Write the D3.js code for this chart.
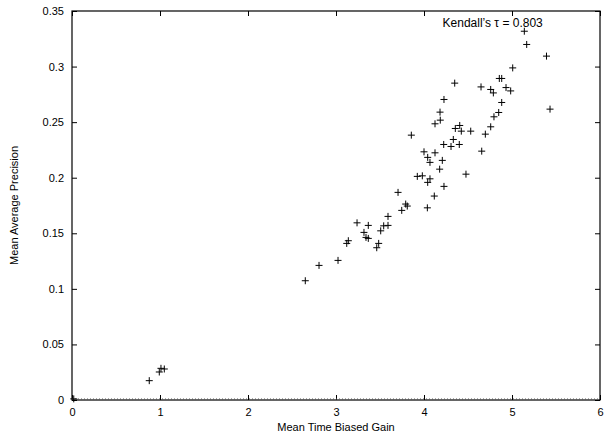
<!DOCTYPE html>
<html>
<head>
    <meta charset="utf-8">
    <script src="https://d3js.org/d3.v7.min.js"></script>
    <style>
        body { margin: 0; background: #fff; }
        text { font-family: "Liberation Sans", Arial, sans-serif; }
    </style>
</head>
<body>
<script>
    // values
    var mtbg = [0.02, 0.878, 0.992, 1.011, 1.049, 2.651, 2.807, 3.023, 3.122, 3.140,
        3.239, 3.318, 3.341, 3.367, 3.367, 3.463, 3.485, 3.508, 3.542, 3.591,
        3.591, 3.705, 3.747, 3.792, 3.810, 3.856, 3.924, 3.981, 4.000, 4.038,
        4.042, 4.042, 4.068, 4.068, 4.117, 4.125, 4.125, 4.178, 4.182, 4.185,
        4.208, 4.227, 4.227, 4.224, 4.307, 4.333, 4.349, 4.356, 4.401, 4.406,
        4.424, 4.477, 4.531, 4.648, 4.656, 4.697, 4.758, 4.758, 4.788, 4.795,
        4.849, 4.856, 4.883, 4.883, 4.932, 4.985, 5.008, 5.140, 5.167, 5.392, 5.432];
    var map = [0.001, 0.0174, 0.0252, 0.0285, 0.0279, 0.1073, 0.1211, 0.1256, 0.1409, 0.1433,
        0.1594, 0.1508, 0.1463, 0.1454, 0.1571, 0.1370, 0.1409, 0.1522, 0.1567, 0.1571,
        0.1652, 0.1868, 0.1706, 0.1763, 0.1745, 0.2383, 0.2012, 0.2017, 0.2233, 0.1729,
        0.1958, 0.2183, 0.1990, 0.2138, 0.1835, 0.2224, 0.2485, 0.2077, 0.2590, 0.2518,
        0.2156, 0.1922, 0.2704, 0.2299, 0.2281, 0.2344, 0.2851, 0.2443, 0.2299, 0.2470,
        0.2419, 0.2032, 0.2419, 0.2817, 0.2239, 0.2392, 0.2458, 0.2794, 0.2763, 0.2548,
        0.2587, 0.2893, 0.2893, 0.2677, 0.2811, 0.2781, 0.2988, 0.3318, 0.3199, 0.3094, 0.2617];
    var xTicks = [0, 1, 2, 3, 4, 5, 6];
    var yTicks = [0, 0.05, 0.1, 0.15, 0.2, 0.25, 0.3, 0.35];
    var annotation = "Kendall\u2019s \u03c4 = 0.803";

    var data = mtbg.map(function (d, i) { return { x: d, y: map[i] } });

    var outerWidth = 605, outerHeight = 438,
        margin = { top: 11, right: 5, bottom: 38, left: 72 },
        svg = d3.select("body").append("svg").attr("width", outerWidth).attr("height", outerHeight);

    var width = outerWidth - margin.left - margin.right,
        height = outerHeight - margin.top - margin.bottom,
        g = svg.append("g").attr("transform", "translate(" + margin.left + "," + margin.top + ")");

    var xScale = d3.scaleLinear().domain([0, 6]).range([0, width]);
    var yScale = d3.scaleLinear().domain([0, 0.35]).range([height, 0]);

    // gnuplot style: ticks pointing inward on all four sides
    g.append("g")
        .attr("transform", "translate(0," + height + ")")
        .call(d3.axisBottom(xScale).tickValues(xTicks).tickFormat(d3.format("d")).tickSizeInner(-5).tickSizeOuter(0).tickPadding(8))
        .call(function (a) { a.select(".domain").remove() });
    g.append("g")
        .call(d3.axisTop(xScale).tickValues(xTicks).tickFormat("").tickSizeInner(-5).tickSizeOuter(0))
        .call(function (a) { a.select(".domain").remove() });
    g.append("g")
        .call(d3.axisLeft(yScale).tickValues(yTicks).tickFormat(function (d) { return d === 0 ? "0" : d3.format("")(+d.toFixed(2)) }).tickSizeInner(-5).tickSizeOuter(0).tickPadding(8))
        .call(function (a) { a.select(".domain").remove() });
    g.append("g")
        .attr("transform", "translate(" + width + ",0)")
        .call(d3.axisRight(yScale).tickValues(yTicks).tickFormat("").tickSizeInner(-5).tickSizeOuter(0))
        .call(function (a) { a.select(".domain").remove() });

    g.selectAll(".tick text").attr("font-size", 11).attr("fill", "#000")
        .attr("font-family", "'Liberation Sans', Arial, sans-serif");
    g.selectAll(".tick line").attr("stroke", "#000");

    // frame
    g.append("rect")
        .attr("width", width).attr("height", height)
        .attr("fill", "none").attr("stroke", "#000").attr("stroke-width", 1.2);

    // zero axis, dotted over the bottom border
    g.append("line")
        .attr("x1", 0).attr("x2", width)
        .attr("y1", yScale(0) - 1).attr("y2", yScale(0) - 1)
        .attr("stroke", "#555").attr("stroke-dasharray", "1,2");

    // points drawn as plus signs
    g.selectAll("path.pt").data(data)
        .enter().append("path")
        .attr("class", "pt")
        .attr("d", function (d) {
            var x = xScale(d.x), y = yScale(d.y);
            return "M" + (x - 3.5) + "," + y + "H" + (x + 3.5) + "M" + x + "," + (y - 3.5) + "V" + (y + 3.5);
        })
        .attr("stroke", "#000").attr("stroke-width", 1).attr("fill", "none");

    g.append("text")
        .attr("x", xScale(5.35)).attr("y", 16)
        .attr("text-anchor", "end")
        .attr("font-size", 12)
        .text(annotation);

    svg.append("text")
        .attr("x", margin.left + width / 2).attr("y", 431)
        .attr("text-anchor", "middle").attr("font-size", 11)
        .text("Mean Time Biased Gain");

    svg.append("text")
        .attr("transform", "translate(18," + (margin.top + height / 2) + ") rotate(-90)")
        .attr("text-anchor", "middle").attr("font-size", 11)
        .text("Mean Average Precision");
</script>
</body>
</html>
